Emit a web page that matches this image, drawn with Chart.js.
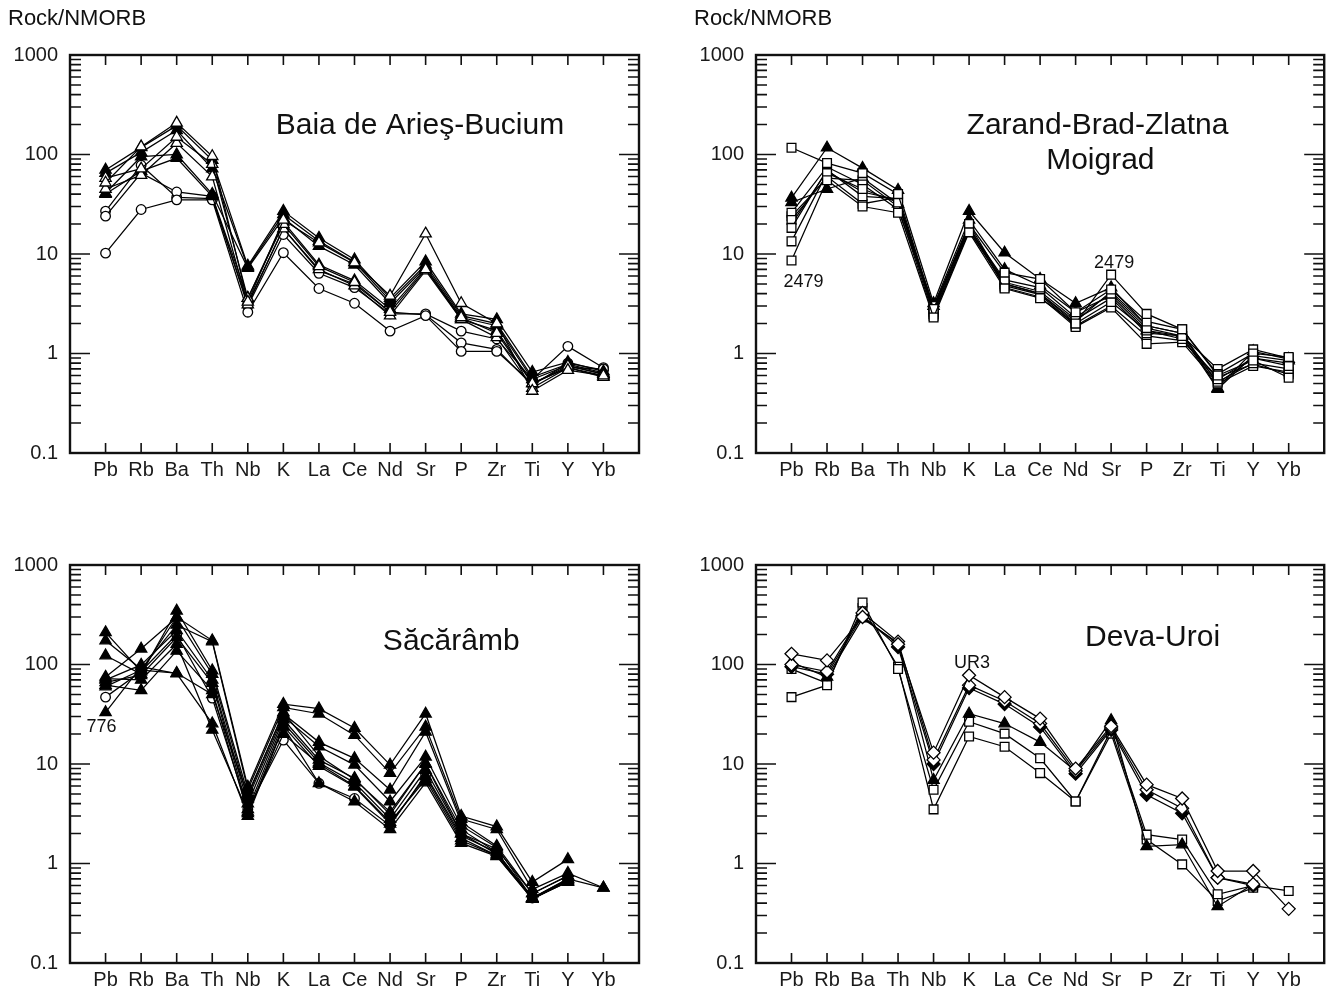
<!DOCTYPE html>
<html><head><meta charset="utf-8">
<script src="https://cdn.jsdelivr.net/npm/chart.js@4"></script>
<style>
html,body{margin:0;padding:0;background:#fff;width:1332px;height:992px;overflow:hidden;position:relative}
canvas{position:absolute}
</style></head><body>
<canvas id="c1"></canvas><canvas id="c2"></canvas><canvas id="c3"></canvas><canvas id="c4"></canvas>
<script>
// ---------- data ----------
const elements = ['Pb','Rb','Ba','Th','Nb','K','La','Ce','Nd','Sr','P','Zr','Ti','Y','Yb'];
const yTicks = [0.1, 1, 10, 100, 1000];
const yTickLabels = ['0.1', '1', '10', '100', '1000'];

// Baia de Arieş-Bucium
const baiaSeries = [
  [52, 120, 208, 96, 3.3, 22, 13, 8.2, 3.8, 16, 3.2, 2.0, 0.42, 0.68, 0.6],
  [58, 72, 150, 80, 3.6, 20, 7.5, 5.2, 2.6, 7.0, 2.3, 1.6, 0.5, 0.75, 0.62],
  [45, 62, 130, 60, 3.1, 18, 7.0, 4.8, 2.4, 6.8, 2.2, 1.45, 0.45, 0.72, 0.58],
  [70, 118, 195, 88, 7.6, 27, 14.5, 8.8, 3.6, 8.4, 2.5, 2.2, 0.65, 0.82, 0.66],
  [65, 105, 175, 72, 7.4, 25, 13.5, 8.3, 3.4, 7.8, 2.4, 2.0, 0.58, 0.78, 0.64],
  [41, 95, 100, 40, 7.2, 23, 12, 7.8, 3.2, 7.4, 2.3, 1.9, 0.55, 0.76, 0.62],
  [40, 68, 92, 38, 3.6, 21, 7.8, 5.4, 2.8, 7.2, 2.2, 1.7, 0.5, 0.72, 0.6],
  [10.2, 28, 35, 35, 2.6, 10.3, 4.5, 3.2, 1.68, 2.4, 1.05, 1.05, 0.5, 0.72, 0.7],
  [24, 65, 42, 38, 3.0, 15.7, 6.4, 4.6, 2.5, 2.5, 1.68, 1.4, 0.55, 1.18, 0.72],
  [27, 78, 37, 36, 3.2, 18, 6.8, 5.0, 2.6, 2.45, 1.28, 1.1, 0.48, 0.8, 0.68]
];
const baiaMarkers = ['openTri','openTri','openTri','fillTri','fillTri','fillTri','fillTri','openCircle','openCircle','openCircle'];

// Zarand-Brad-Zlatna / Moigrad
const zarandSeries = [
  [8.6, 55, 30, 26, 2.3, 16.5, 4.5, 3.6, 2.0, 6.2, 2.5, 1.75, 0.6, 0.85, 0.57],
  [117, 82, 65, 40, 2.8, 20, 6.5, 5.6, 2.6, 4.4, 2.1, 1.75, 0.62, 1.0, 0.92],
  [13.4, 65, 45, 33, 2.6, 18, 5.5, 4.6, 2.3, 4.0, 1.8, 1.5, 0.55, 0.9, 0.75],
  [18.3, 70, 38, 36, 2.5, 17, 5.0, 4.0, 2.0, 3.3, 1.7, 1.4, 0.52, 0.8, 0.7],
  [22, 60, 32, 37, 2.7, 19, 4.6, 3.7, 1.85, 2.9, 1.25, 1.3, 0.5, 0.75, 0.65],
  [26, 75, 50, 28, 3.0, 18, 5.2, 4.2, 2.2, 3.6, 1.6, 1.5, 0.7, 1.1, 0.9],
  [24, 58, 55, 30, 2.4, 17.5, 4.8, 3.9, 1.9, 3.0, 1.5, 1.35, 0.58, 0.78, 0.62],
  [36.7, 117, 73, 44, 3.2, 27, 10.3, 5.6, 3.2, 4.6, 1.9, 1.6, 0.45, 1.05, 0.88],
  [33, 45, 58, 32, 3.0, 22, 7.0, 4.8, 2.6, 3.8, 1.7, 1.5, 0.44, 0.95, 0.85],
  [20, 68, 42, 35, 2.8, 20, 5.0, 4.0, 2.1, 4.2, 1.9, 1.6, 0.5, 0.9, 0.8]
];
const zarandMarkers = ['openSquare','openSquare','openSquare','openSquare','openSquare','openSquare','openSquare','fillTri','fillTri','fillSquare'];

// Săcărâmb
const sacaSeries = [
  [210, 85, 300, 174, 5.9, 40, 36, 23, 9.8, 32, 3.0, 2.35, 0.65, 1.1, null],
  [174, 90, 250, 170, 5.5, 37, 32, 19.5, 8.1, 23.6, 2.8, 2.2, 0.55, 0.8, 0.57],
  [123, 80, 347, 87, 5.0, 32, 16.6, 11.4, 5.5, 21, 2.6, 1.5, 0.5, 0.75, null],
  [75, 144, 295, 80, 4.5, 30, 15, 9.8, 4.2, 11.8, 2.4, 1.45, 0.45, 0.7, 0.57],
  [70, 99, 220, 70, 4.0, 28, 11, 7.2, 3.1, 10.1, 2.2, 1.3, 0.44, 0.66, null],
  [66, 78, 188, 65, 3.5, 26, 10.3, 6.5, 2.8, 8.7, 2.0, 1.25, 0.45, 0.7, null],
  [62, 55, 137, 55, 3.2, 24, 9.5, 5.9, 2.5, 7.5, 1.8, 1.2, 0.44, 0.68, null],
  [33, 95, 81, 25.5, 3.0, 23.6, 6.4, 4.2, 2.2, 6.5, 1.6, 1.18, 0.44, 0.66, null],
  [72, 70, 160, 22, 3.3, 20, 10, 6.0, 2.6, 7.0, 1.7, 1.2, 0.45, 0.65, null],
  [60, 88, 82, 50, 4.8, 33, 12, 7.0, 3.3, 10, 2.0, 1.4, 0.5, 0.75, null],
  [47, 85, 200, 46, 3.5, 17.4, 6.4, 4.5, 2.4, 7.8, 1.9, 1.3, 0.45, 0.68, null]
];
const sacaMarkers = ['fillTri','fillTri','fillTri','fillTri','fillTri','fillTri','fillTri','fillTri','fillTri','fillTri','openCircle'];

// Deva-Uroi
const devaSeries = [
  [128, 110, 300, 160, 13, 78, 47, 28.6, 9.0, 24, 6.2, 4.5, 0.84, 0.84, 0.35],
  [100, 85, 330, 170, 11, 62, 43, 25.5, 8.5, 23, 5.5, 3.6, 0.72, 0.62, null],
  [95, 80, 310, 150, 10, 58, 40, 23.6, 8.0, 22, 4.9, 3.2, 0.72, 0.6, null],
  [105, 75, 290, 165, 6.9, 32, 25.5, 16.6, 8.5, 27.5, 1.49, 1.55, 0.37, 0.62, null],
  [47, 62, 420, 90, 5.5, 26.6, 20.2, 11.4, 4.2, 22, 1.95, 1.74, 0.49, 0.6, 0.53],
  [90, 65, 370, 95, 3.5, 18.9, 14.9, 8.1, 4.2, 20.2, 1.74, 0.98, 0.42, 0.57, null]
];
const devaMarkers = ['openDiamond','openDiamond','fillDiamond','fillTri','openSquare','openSquare'];

// ---------- styling ----------
const markerStyles = {
  openTri:     {pointStyle: 'triangle', radius: 6.5, bg: '#fff'},
  fillTri:     {pointStyle: 'triangle', radius: 6.5, bg: '#000'},
  openCircle:  {pointStyle: 'circle',   radius: 4.8, bg: '#fff'},
  openSquare:  {pointStyle: 'rect',     radius: 6.2, bg: '#fff'},
  fillSquare:  {pointStyle: 'rect',     radius: 4.5, bg: '#000'},
  openDiamond: {pointStyle: 'rectRot',  radius: 6.5, bg: '#fff'},
  fillDiamond: {pointStyle: 'rectRot',  radius: 6.5, bg: '#000'}
};
const FONT = '"Liberation Sans", Arial, sans-serif';
const YAXIS_W = 70, XAXIS_H = 40;

const framePlugin = {
  id: 'frame',
  afterDatasetsDraw(chart, args, opts) {
    const {ctx, chartArea: a} = chart;
    const x = chart.scales.x, y = chart.scales.y;
    ctx.save();
    ctx.strokeStyle = '#111';
    ctx.lineWidth = 1.6;
    ctx.beginPath();
    elements.forEach((_, i) => {
      const px = x.getPixelForValue(i);
      ctx.moveTo(px, a.bottom); ctx.lineTo(px, a.bottom - 10);
      ctx.moveTo(px, a.top); ctx.lineTo(px, a.top + 10);
    });
    for (let d = -1; d <= 2; d++) {
      for (let m = 1; m <= 9; m++) {
        const v = m * Math.pow(10, d);
        const py = y.getPixelForValue(v);
        const len = m === 1 ? 20 : 11;
        ctx.moveTo(a.left, py); ctx.lineTo(a.left + len, py);
        ctx.moveTo(a.right, py); ctx.lineTo(a.right - len, py);
      }
    }
    ctx.stroke();
    ctx.lineWidth = 2.4;
    ctx.strokeRect(a.left, a.top, a.right - a.left, a.bottom - a.top);

    ctx.fillStyle = '#111';
    ctx.textBaseline = 'middle';
    if (opts.corner) {
      ctx.font = '22px ' + FONT;
      ctx.textAlign = 'left';
      ctx.fillText(opts.corner.text, opts.corner.x, opts.corner.y);
    }
    ctx.font = '30px ' + FONT;
    ctx.textAlign = 'center';
    (opts.titles || []).forEach(t => {
      ctx.fillText(t.text, a.left + t.fx * (a.right - a.left), a.top + t.fy * (a.bottom - a.top));
    });
    ctx.font = '18px ' + FONT;
    (opts.notes || []).forEach(n => {
      ctx.fillText(n.text, x.getPixelForValue(n.i) + n.dx, y.getPixelForValue(n.v) + n.dy);
    });
    ctx.restore();
  }
};

function makePanel(id, box, area, series, markers, extra) {
  const cv = document.getElementById(id);
  cv.width = box.w; cv.height = box.h;
  cv.style.left = box.x + 'px'; cv.style.top = box.y + 'px';
  cv.style.width = box.w + 'px'; cv.style.height = box.h + 'px';
  const datasets = series.map((vals, k) => {
    const st = markerStyles[markers[k]];
    return {
      data: vals.map((v, i) => ({x: i, y: v})),
      borderColor: '#000', borderWidth: 1.25, tension: 0, fill: false,
      pointStyle: st.pointStyle, pointRadius: st.radius,
      pointBackgroundColor: st.bg, pointBorderColor: '#000', pointBorderWidth: 1.3
    };
  });
  new Chart(cv, {
    type: 'line',
    data: {datasets},
    plugins: [framePlugin],
    options: {
      responsive: false, animation: false, events: [],
      layout: {padding: {
        left: area.L - box.x - YAXIS_W,
        top: area.T - box.y,
        right: box.x + box.w - area.R,
        bottom: box.y + box.h - area.B - XAXIS_H
      }},
      plugins: {legend: {display: false}, tooltip: {enabled: false}, frame: extra},
      scales: {
        x: {
          type: 'linear', min: -1, max: elements.length,
          grid: {display: false}, border: {display: false},
          afterBuildTicks: s => { s.ticks = elements.map((_, i) => ({value: i})); },
          afterFit: s => { s.height = XAXIS_H; },
          ticks: {autoSkip: false, maxRotation: 0, padding: -3, color: '#1a1a1a',
            font: {family: FONT, size: 20},
            callback: v => elements[v] ?? ''}
        },
        y: {
          type: 'logarithmic', min: yTicks[0], max: yTicks[yTicks.length - 1],
          grid: {display: false}, border: {display: false},
          afterBuildTicks: s => { s.ticks = yTicks.map(v => ({value: v})); },
          afterFit: s => { s.width = YAXIS_W; },
          ticks: {padding: 4, color: '#1a1a1a', font: {family: FONT, size: 20},
            callback: v => { const k = yTicks.indexOf(v); return k >= 0 ? yTickLabels[k] : ''; }}
        }
      }
    }
  });
}

makePanel('c1', {x: 0, y: 0, w: 666, h: 510}, {L: 70, T: 55, R: 639, B: 453},
  baiaSeries, baiaMarkers,
  {corner: {text: 'Rock/NMORB', x: 8, y: 19},
   titles: [{text: 'Baia de Arieş-Bucium', fx: 0.615, fy: 0.178}]});

makePanel('c2', {x: 680, y: 0, w: 652, h: 510}, {L: 756, T: 55, R: 1325, B: 453},
  zarandSeries, zarandMarkers,
  {corner: {text: 'Rock/NMORB', x: 14, y: 19},
   titles: [{text: 'Zarand-Brad-Zlatna', fx: 0.601, fy: 0.178}, {text: 'Moigrad', fx: 0.606, fy: 0.266}],
   notes: [{text: '2479', i: 0, v: 8.6, dx: 12, dy: 22}, {text: '2479', i: 9, v: 6.2, dx: 3, dy: -12}]});

makePanel('c3', {x: 0, y: 510, w: 666, h: 500}, {L: 70, T: 565, R: 639, B: 963},
  sacaSeries, sacaMarkers,
  {titles: [{text: 'Săcărâmb', fx: 0.67, fy: 0.193}],
   notes: [{text: '776', i: 0, v: 33, dx: -4, dy: 15}]});

makePanel('c4', {x: 680, y: 510, w: 652, h: 500}, {L: 756, T: 565, R: 1325, B: 963},
  devaSeries, devaMarkers,
  {titles: [{text: 'Deva-Uroi', fx: 0.698, fy: 0.183}],
   notes: [{text: 'UR3', i: 5, v: 78, dx: 3, dy: -12}]});
</script>
</body></html>
